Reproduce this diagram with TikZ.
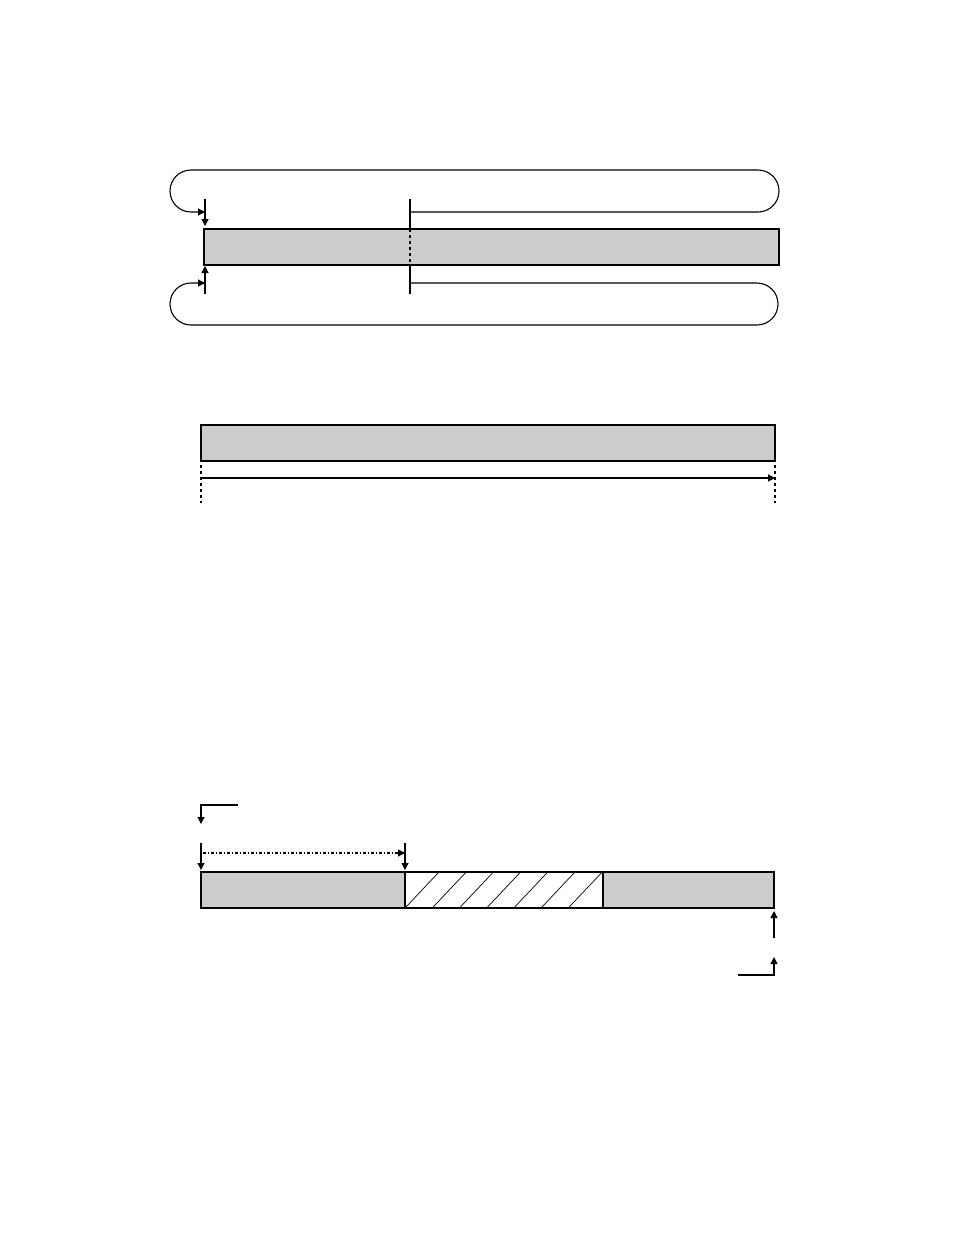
\documentclass[tikz,border=0pt]{standalone}
\usetikzlibrary{arrows.meta}
\begin{document}
\begin{tikzpicture}[x=1pt,y=-1pt, line width=1.1pt,
 bar/.style={draw, fill=black!20, inner sep=0pt, outer sep=0pt, anchor=north west, minimum height=36pt},
 hatchbox/.style={draw, fill=white, inner sep=0pt, outer sep=0pt, anchor=north west, minimum height=36pt},
 tip/.style={-{Triangle[length=7pt,width=7pt]}},
 dsh/.style={dash pattern=on 3pt off 3pt},
 dshdot/.style={dash pattern=on 3pt off 2pt on 1pt off 2pt},
 hatchline/.style={line width=0.7pt}]
\useasboundingbox (0,0) rectangle (954,1235);

% ---------- top section ----------
\node[bar, minimum width=575pt] (b1) at (204,229) {};
\coordinate (v1top) at (205,199);
\coordinate (v1tip) at (205,226);
\coordinate (v1hit) at (205,212);
\coordinate (v2bot) at (205,294);
\coordinate (v2tip) at (205,266);
\coordinate (v2hit) at (205,283);
\coordinate (m1) at (410,199);
\coordinate (m2) at (410,229);
\coordinate (m3) at (410,265);
\coordinate (m4) at (410,294);
\coordinate (la) at (410,212);
\coordinate (lb) at (410,283);

\draw[tip] (v1top) -- (v1tip);
\draw[tip] (v2bot) -- (v2tip);
\draw (m1) -- (m2);
\draw[dsh] (m2) -- (m3);
\draw (m3) -- (m4);

\draw[tip] (la) -- (758,212) arc[start angle=90,end angle=-90,radius=21]
  -- (191,170) arc[start angle=270,end angle=90,radius=21] -- (v1hit);
\draw[tip] (lb) -- (757,283) arc[start angle=-90,end angle=90,radius=21]
  -- (191,325) arc[start angle=90,end angle=270,radius=21] -- (v2hit);

% ---------- middle section ----------
\node[bar, minimum width=574pt] (b2) at (201,425) {};
\coordinate (a1) at (201,478);
\coordinate (a2) at (775,478);
\draw[tip] (a1) -- (a2);
\coordinate (d1t) at (201,465); \coordinate (d1b) at (201,503);
\coordinate (d2t) at (775,465); \coordinate (d2b) at (775,503);
\draw[dsh] (d1t) -- (d1b);
\draw[dsh] (d2t) -- (d2b);

% ---------- bottom section ----------
\node[bar, minimum width=204pt] (b3) at (201,872) {};
\node[hatchbox, minimum width=198pt] (h) at (405,872) {};
\node[bar, minimum width=171pt] (b4) at (603,872) {};
\foreach \k in {0,...,6}
  \draw[hatchline] ({405+27.2*\k},908) -- ({439+27.2*\k},872);
\draw[line width=2pt] (b4.north west) -- (b4.south west);
\draw (h.north west) -- (h.south west);

\coordinate (k1) at (238,805);
\coordinate (k2) at (201,805);
\coordinate (k3) at (201,824);
\draw[tip] (k1) -- (k2) -- (k3);

\coordinate (p1) at (201,843); \coordinate (p1e) at (201,870);
\coordinate (p2) at (405,843); \coordinate (p2e) at (405,870);
\draw[tip] (p1) -- (p1e);
\draw[tip] (p2) -- (p2e);
\coordinate (q1) at (203,853); \coordinate (q2) at (405,853);
\draw[tip, dshdot] (q1) -- (q2);

\coordinate (r1) at (774,938); \coordinate (r1e) at (774,911);
\draw[tip] (r1) -- (r1e);
\coordinate (s1) at (738,975); \coordinate (s2) at (774,975); \coordinate (s3) at (774,957);
\draw[tip] (s1) -- (s2) -- (s3);
\end{tikzpicture}
\end{document}
